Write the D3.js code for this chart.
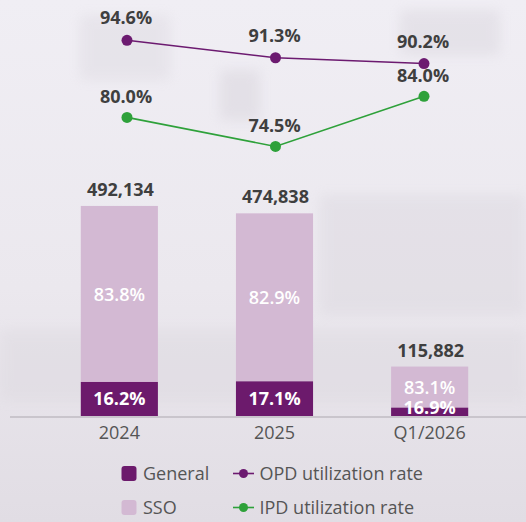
<!DOCTYPE html>
<html>
<head>
<meta charset="utf-8">
<script src="https://cdn.jsdelivr.net/npm/d3@7"></script>
<style>
  html, body { margin: 0; padding: 0; }
  body { width: 526px; height: 522px; overflow: hidden; }
</style>
</head>
<body>
<div id="chart"></div>
<script>
// DATA
var periods = ['2024', '2025', 'Q1/2026']
var totals = [492134, 474838, 115882]
var generalShare = [16.2, 17.1, 16.9]
var ssoShare = [83.8, 82.9, 83.1]
var opdRate = [94.6, 91.3, 90.2]
var ipdRate = [80.0, 74.5, 84.0]

// GLOBAL
var width = 526
var height = 522
var svg = d3.select('#chart').append('svg')
  .attr('width', width)
  .attr('height', height)

var colGeneral = '#6c1a6c'
var colSSO = '#d3b9d3'
var colOPD = '#6c1a70'
var colIPD = '#2ea13a'
var colText = '#3f3f3f'
var fontFam = '"Open Sans", "Noto Sans", sans-serif'

// background, a soft blurred backdrop
var defs = svg.append('defs')
var bg = defs.append('linearGradient').attr('id', 'bg')
  .attr('x1', 0).attr('y1', 0).attr('x2', 0).attr('y2', 1)
bg.append('stop').attr('offset', '0%').attr('stop-color', '#f0eef4')
bg.append('stop').attr('offset', '55%').attr('stop-color', '#ebe8ee')
bg.append('stop').attr('offset', '100%').attr('stop-color', '#e1dde4')
defs.append('filter').attr('id', 'blur')
  .attr('x', '-20%').attr('y', '-20%').attr('width', '140%').attr('height', '140%')
  .append('feGaussianBlur').attr('stdDeviation', 6)

svg.append('rect').attr('width', width).attr('height', height).attr('fill', 'url(#bg)')
var deco = svg.append('g').attr('filter', 'url(#blur)').attr('opacity', 0.35)
deco.append('rect').attr('x', 80).attr('y', 15).attr('width', 90).attr('height', 65).attr('fill', '#d8d4dc')
deco.append('rect').attr('x', 220).attr('y', 70).attr('width', 40).attr('height', 50).attr('fill', '#cfcad3')
deco.append('rect').attr('x', 400).attr('y', 10).attr('width', 100).attr('height', 45).attr('fill', '#d2ced6')
deco.append('rect').attr('x', 320).attr('y', 195).attr('width', 206).attr('height', 120).attr('fill', '#d6d2da')
deco.append('rect').attr('x', 0).attr('y', 330).attr('width', 526).attr('height', 70).attr('fill', '#d9d5dc')

// SCALES
var x = d3.scaleBand()
  .domain(periods)
  .range([42, 507])
  .paddingInner(0.503)
  .paddingOuter(0.25)

var y = d3.scaleLinear()
  .domain([0, 500000])
  .range([416, 202.6])

var xLine = d3.scalePoint()
  .domain(periods)
  .range([127, 424])

var yRate = d3.scaleLinear()
  .domain([70, 100])
  .range([170.2, 11.8])

var rows = periods.map((p, i) => ({
  period: p,
  total: totals[i],
  general: totals[i] * generalShare[i] / (generalShare[i] + ssoShare[i]),
  generalShare: generalShare[i],
  ssoShare: ssoShare[i]
}))

// BARS
var gBars = svg.append('g')
var gBar = gBars.selectAll('.bar')
  .data(rows)
  .enter().append('g')

gBar.append('rect')
  .attr('x', d => x(d.period))
  .attr('y', d => y(d.total))
  .attr('width', x.bandwidth())
  .attr('height', d => y(d.general) - y(d.total))
  .style('fill', colSSO)

gBar.append('rect')
  .attr('x', d => x(d.period))
  .attr('y', d => y(d.general))
  .attr('width', x.bandwidth())
  .attr('height', d => y(0) - y(d.general))
  .style('fill', colGeneral)

function attachFont(text, size, weight, fill) {
  text.style('font-family', fontFam)
    .style('font-size', size + 'px')
    .style('font-weight', weight)
    .style('fill', fill)
    .style('text-anchor', 'middle')
}

gBar.append('text')
  .attr('x', d => x(d.period) + x.bandwidth() / 2)
  .attr('y', d => (y(d.total) + y(d.general)) / 2 + 7)
  .text(d => d.ssoShare.toFixed(1) + '%')
  .call(attachFont, 18, 600, '#ffffff')

gBar.append('text')
  .attr('x', d => x(d.period) + x.bandwidth() / 2)
  .attr('y', d => Math.min((y(0) + y(d.general)) / 2 + 6.5, 414))
  .text(d => d.generalShare.toFixed(1) + '%')
  .call(attachFont, 18, 700, '#ffffff')

gBar.append('text')
  .attr('x', d => x(d.period) + x.bandwidth() / 2 + 1)
  .attr('y', d => y(d.total) - 10)
  .text(d => d3.format(',')(d.total))
  .call(attachFont, 18, 700, colText)

// AXIS
var xAxis = d3.axisBottom(x).tickSize(0).tickPadding(10)
var gXAxis = svg.append('g')
  .attr('transform', 'translate(0,' + y(0) + ')')
  .call(xAxis)
gXAxis.select('.domain').remove()
gXAxis.selectAll('text')
  .call(attachFont, 18, 400, '#555555')
  .attr('dy', '0.71em')
svg.append('line')
  .attr('x1', 10).attr('x2', width)
  .attr('y1', y(0) + 1).attr('y2', y(0) + 1)
  .style('stroke', '#c9c5cc')
  .style('stroke-width', 2)

// LINES
function drawRate(values, colour, labelOffset) {
  var pts = values.map((v, i) => ({ period: periods[i], v: v }))
  var line = d3.line()
    .x(d => xLine(d.period))
    .y(d => yRate(d.v))
  var g = svg.append('g')
  g.append('path')
    .datum(pts)
    .attr('d', line)
    .style('fill', 'none')
    .style('stroke', colour)
    .style('stroke-width', 1.6)
  g.selectAll('circle')
    .data(pts)
    .enter().append('circle')
    .attr('cx', d => xLine(d.period))
    .attr('cy', d => yRate(d.v))
    .attr('r', 5.5)
    .style('fill', colour)
  g.selectAll('text')
    .data(pts)
    .enter().append('text')
    .attr('x', d => xLine(d.period) - 1)
    .attr('y', d => yRate(d.v) - labelOffset)
    .text(d => d.v.toFixed(1) + '%')
    .call(attachFont, 18, 700, colText)
}

drawRate(opdRate, colOPD, 16)
drawRate(ipdRate, colIPD, 14)

// LEGEND
var gLeg = svg.append('g')
var legSwatch = [
  { label: 'General', colour: colGeneral, yy: 473.5 },
  { label: 'SSO', colour: colSSO, yy: 507.5 }
]
legSwatch.forEach(function(d) {
  gLeg.append('rect')
    .attr('x', 121.5).attr('y', d.yy - 7.5)
    .attr('width', 15).attr('height', 15)
    .attr('rx', 3)
    .style('fill', d.colour)
  gLeg.append('text')
    .attr('x', 143).attr('y', d.yy + 6.5)
    .text(d.label)
    .call(attachFont, 18, 400, '#555555')
    .style('text-anchor', 'start')
})
var legLine = [
  { label: 'OPD utilization rate', colour: colOPD, yy: 473.5 },
  { label: 'IPD utilization rate', colour: colIPD, yy: 507.5 }
]
legLine.forEach(function(d) {
  gLeg.append('line')
    .attr('x1', 233).attr('x2', 254)
    .attr('y1', d.yy).attr('y2', d.yy)
    .style('stroke', d.colour)
    .style('stroke-width', 1.6)
  gLeg.append('circle')
    .attr('cx', 243.5).attr('cy', d.yy)
    .attr('r', 4.5)
    .style('fill', d.colour)
  gLeg.append('text')
    .attr('x', 259.5).attr('y', d.yy + 6.5)
    .text(d.label)
    .call(attachFont, 18, 400, '#555555')
    .style('text-anchor', 'start')
})
</script>
</body>
</html>
